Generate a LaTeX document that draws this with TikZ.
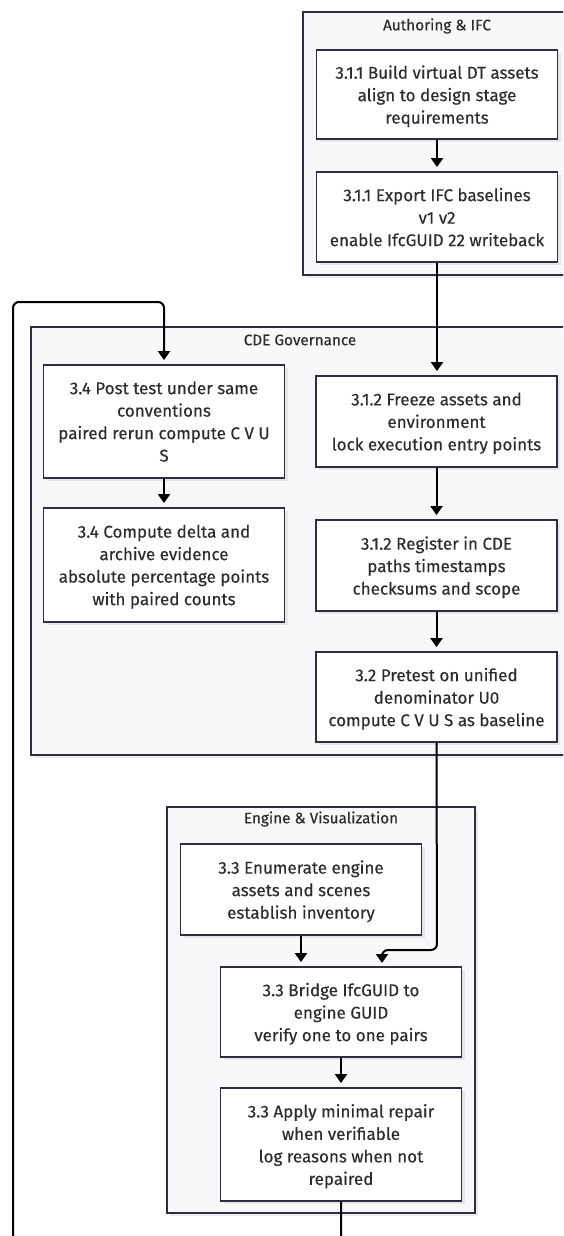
\documentclass[tikz,border=0pt]{standalone}
\usepackage{fontspec}
\setmainfont{Fira Sans}
\newfontfamily\labelfont{Fira Sans}[FakeBold=0.25]
\usetikzlibrary{arrows.meta,shadows,calc}
\definecolor{edge}{HTML}{2E2E42}
\definecolor{clusterbg}{HTML}{F8F8FB}
\definecolor{txt}{HTML}{2C2C2C}

\begin{document}
\begin{tikzpicture}[x=1pt,y=-1pt,
  softshadow/.style={drop shadow={shadow xshift=3pt,shadow yshift=-3pt,fill=black,opacity=0.07}},
  stepbox/.style={draw=edge, line width=1.8pt, fill=white, softshadow,
    minimum width=241pt, inner sep=0pt, align=center, text=txt, text depth=0pt,
    font=\labelfont\fontsize{17}{22.5}\selectfont},
  cluster/.style={draw=edge, line width=1.8pt, fill=clusterbg, softshadow, inner sep=0pt},
  ctitle/.style={text=txt, font=\labelfont\fontsize{15.3}{18}\selectfont, inner sep=0pt},
  flow/.style={draw=black, line width=2pt, shorten >=4pt,
    -{Triangle[width=12pt,length=9pt]}},
]
\useasboundingbox (0,0) rectangle (563,1236);
\clip (0,0) rectangle (563,1236);

% subgraph frames
\node[cluster, minimum width=268pt, minimum height=263pt] (gAuth) at (437,143.5) {};
\node[ctitle] (tAuth) at (437,26) {Authoring \& IFC};
\node[cluster, minimum width=538pt, minimum height=428pt] (gCDE) at (300,541) {};
\node[ctitle] (tCDE) at (300,340) {CDE Governance};
\node[cluster, minimum width=308pt, minimum height=406pt] (gEng) at (321,1010) {};
\node[ctitle] (tEng) at (321,819) {Engine \& Visualization};

% authoring steps
\node[stepbox, minimum height=89pt] (build) at (437,94.5)
  {3.1.1 Build virtual DT assets\\align to design stage\\requirements};
\node[stepbox, minimum height=90pt] (export) at (437,217)
  {3.1.1 Export IFC baselines\\v1 v2\\enable IfcGUID 22 writeback};

% CDE steps
\node[stepbox, minimum height=91pt] (freeze) at (436.5,421.5)
  {3.1.2 Freeze assets and\\environment\\lock execution entry points};
\node[stepbox, minimum height=91pt] (register) at (436.5,565.5)
  {3.1.2 Register in CDE\\paths timestamps\\checksums and scope};
\node[stepbox, minimum height=90pt] (pretest) at (436.5,697)
  {3.2 Pretest on unified\\denominator U0\\compute C V U S as baseline};
\node[stepbox, minimum height=113pt] (post) at (164,421.5)
  {3.4 Post test under same\\conventions\\paired rerun compute C V U\\S};
\node[stepbox, minimum height=114pt] (delta) at (164,565)
  {3.4 Compute delta and\\archive evidence\\absolute percentage points\\with paired counts};

% engine steps
\node[stepbox, minimum height=91pt] (enum) at (301,889.5)
  {3.3 Enumerate engine\\assets and scenes\\establish inventory};
\node[stepbox, minimum height=90pt] (bridge) at (341,1012)
  {3.3 Bridge IfcGUID to\\engine GUID\\verify one to one pairs};
\node[stepbox, minimum height=113pt] (repair) at (341,1144.5)
  {3.3 Apply minimal repair\\when verifiable\\log reasons when not\\repaired};

% route points
\coordinate (bendP) at (437,950);
\coordinate (inB) at (382,967);
\coordinate (loopB) at (341,1248);
\coordinate (loopT) at (13,302);

% connectors
\draw[flow] (build) -- (export);
\draw[flow] (export.south) -- (export.south |- freeze.north);
\draw[flow] (freeze) -- (register);
\draw[flow] (register) -- (pretest);
\draw[flow, rounded corners=6pt] (pretest.south) -- (bendP) -| (inB);
\draw[flow] (enum.south) -- (enum.south |- bridge.north);
\draw[flow] (bridge) -- (repair);
\draw[flow, rounded corners=6pt] (repair.south) -- (loopB) -| (loopT) -| (post.north);
\draw[flow] (post) -- (delta);
\end{tikzpicture}
\end{document}
